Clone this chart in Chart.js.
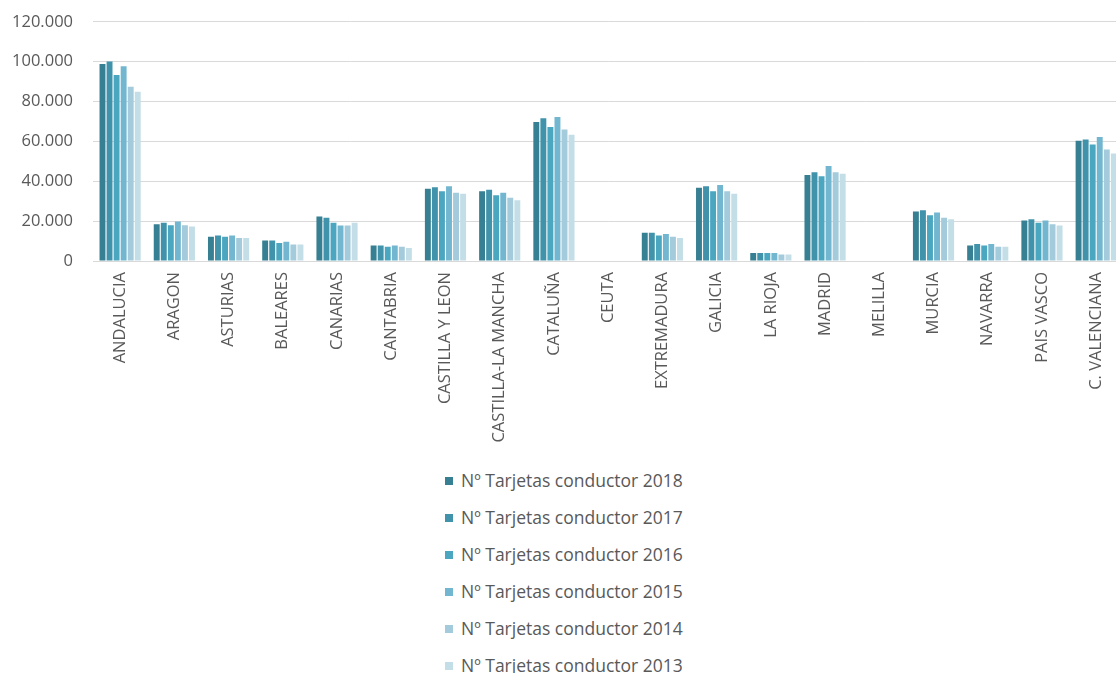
<!DOCTYPE html>
<html>
<head>
<meta charset="utf-8">
<script src="https://cdn.jsdelivr.net/npm/chart.js@4"></script>
<style>
  html, body { margin: 0; padding: 0; background: #fff; overflow: hidden; width: 1116px; height: 673px; }
  #wrap { position: absolute; left: 0; top: -8px; width: 1127px; height: 453px; }
  #legend { position: absolute; left: 445px; top: 462px; font-family: "Open Sans", sans-serif; font-size: 17.5px; color: #595959; }
  .item { position: relative; height: 37px; line-height: 37px; white-space: nowrap; }
  .sw { display: inline-block; width: 8px; height: 8px; margin-right: 8px; vertical-align: middle; position: relative; top: -1px; }
</style>
</head>
<body>
<div id="wrap"><canvas id="c" width="1127" height="453"></canvas></div>
<div id="legend"></div>
<script>
const categories = ["ANDALUCIA","ARAGON","ASTURIAS","BALEARES","CANARIAS","CANTABRIA","CASTILLA Y LEON","CASTILLA-LA MANCHA","CATALUÑA","CEUTA","EXTREMADURA","GALICIA","LA RIOJA","MADRID","MELILLA","MURCIA","NAVARRA","PAIS VASCO","C. VALENCIANA"];
const seriesLabels = ["Nº Tarjetas conductor 2018","Nº Tarjetas conductor 2017","Nº Tarjetas conductor 2016","Nº Tarjetas conductor 2015","Nº Tarjetas conductor 2014","Nº Tarjetas conductor 2013"];
const v2018 = [98900,18500,12200,10300,22300,7800,36300,35000,69800,0,14200,36800,4000,43200,0,24800,7800,20300,60300];
const v2017 = [100100,19200,12800,10300,21700,7800,37000,35700,71700,0,14200,37500,4000,44500,0,25500,8500,21000,61000];
const v2016 = [93300,18000,12200,9000,19200,7200,35000,33000,67200,0,12800,35000,4000,42500,0,23000,7800,19200,58500];
const v2015 = [97700,19800,12800,9700,17800,7800,37500,34300,72300,0,13500,38200,4000,47700,0,24300,8500,20300,62200];
const v2014 = [87500,18000,11500,8300,17800,7200,34300,31800,66000,0,12200,35000,3300,44500,0,21700,7200,18500,56000];
const v2013 = [85000,17300,11500,8300,19200,6500,33700,30500,63300,0,11500,33700,3300,43800,0,21000,7200,17800,54000];
const yTicks = [0,20000,40000,60000,80000,100000,120000];
const colors = ["#377f92","#4093aa","#4ba6c0","#72b7cf","#a3cbdb","#c3dee7"];

const allValues = [v2018,v2017,v2016,v2015,v2014,v2013];
const datasets = allValues.map((vals, i) => ({
  label: seriesLabels[i],
  data: vals,
  backgroundColor: colors[i],
  borderWidth: 0,
  barPercentage: 0.84,
  categoryPercentage: 0.78
}));

function fmt(v) { return String(v).replace(/\B(?=(\d{3})+(?!\d))/g, "."); }

new Chart(document.getElementById("c"), {
  type: "bar",
  data: { labels: categories, datasets },
  options: {
    responsive: false,
    animation: false,
    devicePixelRatio: 1,
    layout: { padding: { top: 13, right: 0, bottom: 0, left: 0 } },
    plugins: { legend: { display: false }, tooltip: { enabled: false } },
    scales: {
      x: {
        grid: { display: false, drawTicks: false },
        border: { display: true, color: "#d9d9d9", width: 1 },
        ticks: {
          autoSkip: false, maxRotation: 90, minRotation: 90, padding: 11,
          color: "#595959", font: { family: "Open Sans", size: 16.5 }
        },
        afterFit: s => { s.height = 184; }
      },
      y: {
        min: 0, max: 120000,
        afterBuildTicks: s => { s.ticks = yTicks.map(v => ({ value: v })); },
        grid: { color: "#d9d9d9", lineWidth: 1, drawTicks: false },
        border: { display: false },
        ticks: {
          padding: 20, color: "#595959", font: { family: "Open Sans", size: 16.5 },
          callback: v => fmt(v)
        },
        afterFit: s => { s.width = 93; }
      }
    }
  }
});

const legend = document.getElementById("legend");
seriesLabels.forEach((lab, i) => {
  const d = document.createElement("div");
  d.className = "item";
  const sw = document.createElement("span");
  sw.className = "sw";
  sw.style.background = colors[i];
  d.appendChild(sw);
  d.appendChild(document.createTextNode(lab));
  legend.appendChild(d);
});
</script>
</body>
</html>
